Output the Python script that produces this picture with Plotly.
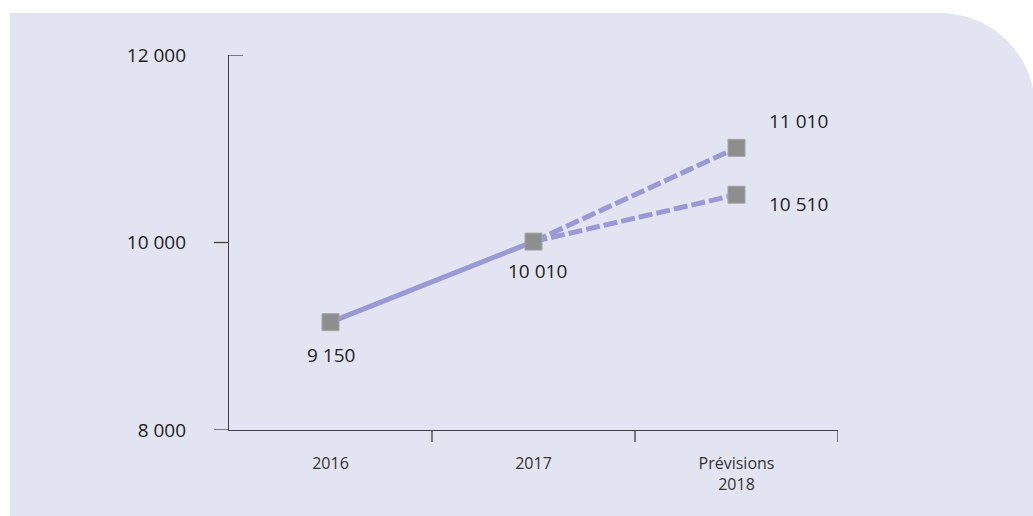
import plotly.graph_objects as go

# ---- data ----
categories = ["2016", "2017", "Prévisions 2018"]
tick_labels = ["2016", "2017", "Prévisions<br>2018"]
actual_x = ["2016", "2017"]
actual_values = [9150, 10010]
forecast_x = ["2017", "Prévisions 2018"]
forecast_high = [10010, 11010]
forecast_low = [10010, 10510]
y_ticks = [8000, 10000, 12000]

# ---- style ----
BG = "#e3e4f2"
LINE = "#9999d6"
MARK = "#8e8e8e"
AXIS = "#404040"
FONT = "Open Sans"
W, H = 1033, 516
L, R, T, B = 229, 195, 55, 86
PW, PH = W - L - R, H - T - B


def fmt(v):
    return f"{v:,}".replace(",", " ")


def px_x(p):
    return (p - L) / PW


def px_y(p):
    return (H - B - p) / PH


def cidx(c):
    return categories.index(c)


fig = go.Figure()

fig.add_trace(go.Scatter(x=actual_x, y=actual_values, mode="lines",
                         line=dict(color=LINE, width=5), hoverinfo="skip"))
for ys in (forecast_high, forecast_low):
    fig.add_trace(go.Scatter(x=forecast_x, y=ys, mode="lines",
                             line=dict(color=LINE, width=5, dash="14px,4px"),
                             hoverinfo="skip"))

mx = actual_x + forecast_x[1:] + forecast_x[1:]
my = actual_values + forecast_high[1:] + forecast_low[1:]
fig.add_trace(go.Scatter(x=mx, y=my, mode="markers",
                         marker=dict(symbol="square", size=17, color=MARK,
                                     line=dict(color="#a4a4a4", width=1)),
                         hoverinfo="skip"))

# data labels
label_specs = [
    (actual_x[0], actual_values[0], 0, -33),
    (actual_x[1], actual_values[1], 4, -29),
    (forecast_x[1], forecast_high[1], 62, 27),
    (forecast_x[1], forecast_low[1], 62, -9),
]
for x, y, xs, ys in label_specs:
    fig.add_annotation(x=cidx(x), y=y, text=fmt(y), showarrow=False,
                       xshift=xs, yshift=ys,
                       font=dict(family=FONT, size=19, color="#1e1e1e"))

shapes = []
# background panel with rounded top-right corner
x0, x1 = px_x(10), px_x(W + 2)
y0, y1 = px_y(H + 2), px_y(13)
rx, ry = 95 / PW, 95 / PH
k = 0.5523
path = (f"M {x0},{y0} L {x0},{y1} L {x1 - rx},{y1} "
        f"C {x1 - rx + k * rx},{y1} {x1},{y1 - ry + k * ry} {x1},{y1 - ry} "
        f"L {x1},{y0} Z")
shapes.append(dict(type="path", path=path, xref="paper", yref="paper",
                   fillcolor=BG, line=dict(width=0), layer="below"))

# y-axis tick stubs
for v in y_ticks:
    if v == max(y_ticks):
        a, b = 0, px_x(L + 14)
    else:
        a, b = px_x(L - 15), 0
    shapes.append(dict(type="line", xref="paper", yref="y", x0=a, x1=b,
                       y0=v, y1=v, line=dict(color=AXIS, width=1.3)))
# x-axis boundary ticks
for i in range(1, len(categories) + 1):
    shapes.append(dict(type="line", xref="x", yref="paper", x0=i - 0.5,
                       x1=i - 0.5, y0=0, y1=-12 / PH,
                       line=dict(color=AXIS, width=1.3)))

fig.update_layout(
    width=W, height=H,
    margin=dict(l=L, r=R, t=T, b=B),
    paper_bgcolor="white", plot_bgcolor="rgba(0,0,0,0)",
    showlegend=False,
    separators=", ",
    shapes=shapes,
    font=dict(family=FONT, color="#222222"),
)
fig.update_xaxes(type="category", categoryorder="array",
                 categoryarray=categories, range=[-0.5, 2.5],
                 tickvals=categories, ticktext=tick_labels,
                 ticks="", showgrid=False, zeroline=False,
                 showline=True, linecolor=AXIS, linewidth=1.3,
                 tickfont=dict(family=FONT, size=16, color="#333333"),
                 ticklabelstandoff=19)
fig.update_yaxes(range=[8000, 12000], tickvals=y_ticks,
                 tickformat=",d", ticks="", showgrid=False, zeroline=False,
                 showline=True, linecolor=AXIS, linewidth=1.3,
                 tickfont=dict(family=FONT, size=19, color="#1e1e1e"),
                 ticklabelstandoff=38)

fig.write_html("out.html", config={"displayModeBar": False},
               post_script="document.body.style.margin='0';")
